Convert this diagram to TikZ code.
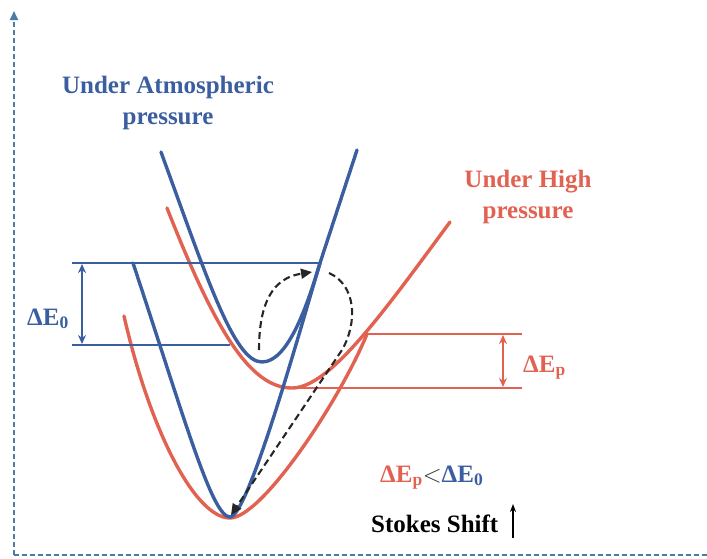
\documentclass[tikz,border=0pt]{standalone}
\usepackage{fontspec}
\setmainfont{Liberation Serif}
\usetikzlibrary{arrows.meta}
\definecolor{atmblue}{RGB}{58,94,160}
\definecolor{hpred}{RGB}{226,98,82}
\definecolor{axisblue}{RGB}{74,122,168}
\tikzset{
  curve/.style={line width=3.4pt, line cap=round},
  level/.style={line width=2.7pt},
  lbl/.style={font=\fontsize{25}{28}\selectfont\bfseries, inner sep=0pt, anchor=base},
  lblw/.style={lbl, anchor=base west},
  dasharrow/.style={black!85, line width=2.1pt, dash pattern=on 7pt off 4pt, -{Triangle[length=11pt,width=10pt]}},
  gaparrow/.style={line width=2.4pt, {Stealth[length=9pt,width=8pt]}-{Stealth[length=9pt,width=8pt]}},
  axisline/.style={axisblue, line width=1.8pt, dash pattern=on 5pt off 3pt},
}
\begin{document}
\begin{tikzpicture}[x=1pt,y=-1pt]
\useasboundingbox (0,0) rectangle (707,558);
% axes
\coordinate (O) at (14,555);
\coordinate (Ytop) at (14,11);
\coordinate (Xend) at (707,555);
\draw[axisline, -{Triangle[length=9pt,width=8pt]}] (O) -- (Ytop);
\draw[axisline] (O) -- (Xend);
% red curves (high pressure)
\draw[curve, hpred] (124,316) .. controls (150,430) and (195,518) .. (230,518)
      .. controls (262,518) and (340,400) .. (367,334);
\draw[curve, hpred] (167,208) .. controls (215,330) and (250,388) .. (292,388)
      .. controls (330,388) and (385,310) .. (450,222);
% red levels
\coordinate (rt1) at (367,334); \coordinate (rt2) at (522,334);
\coordinate (rb1) at (292,388); \coordinate (rb2) at (522,388);
\draw[level, hpred] (rt1) -- (rt2);
\draw[level, hpred] (rb1) -- (rb2);
\coordinate (ra1) at (503,335); \coordinate (ra2) at (503,387);
\draw[gaparrow, hpred] (ra1) -- (ra2);
% blue levels
\coordinate (bt1) at (72,263); \coordinate (bt2) at (320,263);
\coordinate (bb1) at (72,345); \coordinate (bb2) at (230,345);
\draw[level, atmblue] (bt1) -- (bt2);
\draw[level, atmblue] (bb1) -- (bb2);
\coordinate (ba1) at (82,264); \coordinate (ba2) at (82,344);
\draw[gaparrow, atmblue] (ba1) -- (ba2);
% blue curves (atmospheric)
\draw[curve, atmblue] (133,263) .. controls (185,420) and (212,517) .. (230,517)
      .. controls (248,517) and (300,330) .. (320,263);
\draw[curve, atmblue] (161,152) .. controls (207,278) and (234,362) .. (262,362)
      .. controls (287,362) and (306,310) .. (320,263) -- (357,150);
% dashed arrows
\coordinate (d1s) at (259,350); \coordinate (d1e) at (312,272);
\draw[dasharrow] (d1s) .. controls (259,292) and (280,277) .. (d1e);
\coordinate (d2s) at (329,273); \coordinate (d2m) at (342,350); \coordinate (d2e) at (231,515);
\draw[dasharrow] (d2s) .. controls (356,285) and (358,322) .. (d2m) -- (d2e);
% labels
\node[lbl, text=atmblue] (atm1) at (168,93) {Under Atmospheric};
\node[lbl, text=atmblue] (atm2) at (168,124) {pressure};
\node[lbl, text=hpred] (hp1) at (528,187) {Under High};
\node[lbl, text=hpred] (hp2) at (528,218) {pressure};
\node[lblw, text=atmblue] (de0) at (27,325) {ΔE\textsubscript{0}};
\node[lblw, text=hpred] (dep) at (523,372) {ΔE\textsubscript{p}};
\node[lblw] (cmp) at (380,482) {\textcolor{hpred}{ΔE\textsubscript{p}}\textcolor{black!80}{$<$}\textcolor{atmblue}{ΔE\textsubscript{0}}};
\node[lblw] (stokes) at (371,532) {Stokes Shift};
\coordinate (sa1) at (513,538); \coordinate (sa2) at (513,504);
\draw[line width=1.5pt, -{Stealth[length=8pt,width=6pt]}] (sa1) -- (sa2);
\end{tikzpicture}
\end{document}
